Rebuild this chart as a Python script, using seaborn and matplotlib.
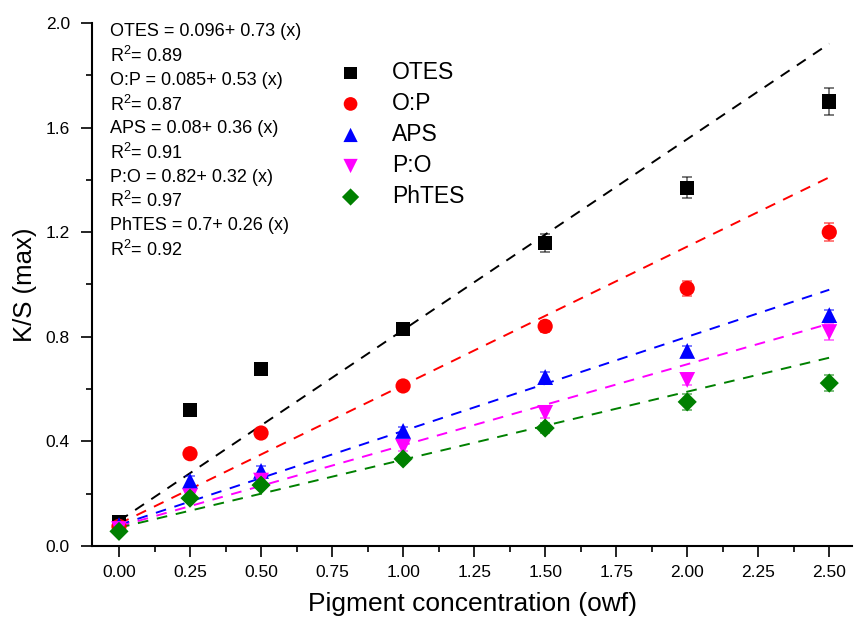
import numpy as np
import pandas as pd
import matplotlib
matplotlib.use("Agg")
import matplotlib.pyplot as plt
import seaborn as sns
from matplotlib.ticker import MultipleLocator

# ---- data ----
conc = [0.0, 0.25, 0.5, 1.0, 1.5, 2.0, 2.5]
series = ["OTES", "O:P", "APS", "P:O", "PhTES"]
otes = [0.093, 0.52, 0.677, 0.83, 1.16, 1.37, 1.70]
op = [0.075, 0.353, 0.432, 0.612, 0.84, 0.985, 1.20]
aps = [0.08, 0.249, 0.287, 0.44, 0.646, 0.746, 0.883]
po = [0.065, 0.19, 0.25, 0.379, 0.509, 0.635, 0.818]
phtes = [0.056, 0.183, 0.233, 0.333, 0.451, 0.551, 0.623]
otes_err = [0.01, 0.01, 0.01, 0.02, 0.035, 0.04, 0.05]
op_err = [0.01, 0.01, 0.01, 0.015, 0.02, 0.03, 0.035]
aps_err = [0.01, 0.02, 0.02, 0.015, 0.02, 0.02, 0.02]
po_err = [0.01, 0.02, 0.02, 0.015, 0.02, 0.02, 0.03]
phtes_err = [0.01, 0.01, 0.01, 0.015, 0.02, 0.03, 0.03]
fit_intercept = [0.096, 0.085, 0.08, 0.075, 0.07]
fit_slope = [0.73, 0.53, 0.36, 0.31, 0.26]
fit_x = [0.0, 2.5]
equations = ["OTES = 0.096+ 0.73 (x)", "R$^2$= 0.89",
             "O:P = 0.085+ 0.53 (x)", "R$^2$= 0.87",
             "APS = 0.08+ 0.36 (x)", "R$^2$= 0.91",
             "P:O = 0.82+ 0.32 (x)", "R$^2$= 0.97",
             "PhTES = 0.7+ 0.26 (x)", "R$^2$= 0.92"]
x_ticks = [0.0, 0.25, 0.5, 0.75, 1.0, 1.25, 1.5, 1.75, 2.0, 2.25, 2.5]
y_ticks = [0.0, 0.4, 0.8, 1.2, 1.6, 2.0]

values = [otes, op, aps, po, phtes]
errors = [otes_err, op_err, aps_err, po_err, phtes_err]
colors = {"OTES": "black", "O:P": "red", "APS": "blue", "P:O": "magenta", "PhTES": "green"}
markers = {"OTES": "s", "O:P": "o", "APS": "^", "P:O": "v", "PhTES": "D"}
sizes_map = {"OTES": 105, "O:P": 120, "APS": 130, "P:O": 130, "PhTES": 95}

df = pd.DataFrame({
    "x": np.tile(conc, len(series)),
    "y": np.concatenate(values),
    "err": np.concatenate(errors),
    "series": np.repeat(series, len(conc)),
})
fit_rows = []
for s, a, b in zip(series, fit_intercept, fit_slope):
    for xv in fit_x:
        fit_rows.append({"x": xv, "y": a + b * xv, "series": s})
fit_df = pd.DataFrame(fit_rows)

sns.set_style("ticks", {"axes.edgecolor": "black", "xtick.color": "black",
                        "ytick.color": "black", "text.color": "black",
                        "axes.labelcolor": "black"})
plt.rcParams["font.family"] = ["Liberation Sans", "DejaVu Sans"]
plt.rcParams["mathtext.fontset"] = "custom"
plt.rcParams["mathtext.rm"] = "Liberation Sans"

fig = plt.figure(figsize=(8.56, 6.23), dpi=100)
ax = fig.add_axes([92 / 856, 1 - 546 / 623, 760 / 856, 523 / 623])

# fit lines
sns.lineplot(data=fit_df, x="x", y="y", hue="series", palette=colors,
             hue_order=series, legend=False, ax=ax, linewidth=1.4,
             dashes=False, zorder=2)
for line in ax.get_lines():
    line.set_dashes((5.5, 4.5))

# error bars
for s in series:
    sub = df[df["series"] == s]
    ax.errorbar(sub["x"], sub["y"], yerr=sub["err"], fmt="none",
                ecolor=colors[s], alpha=0.6, elinewidth=1.2, capsize=3.5,
                capthick=1.2, zorder=3)

# markers
for s in series:
    sub = df[df["series"] == s]
    sns.scatterplot(data=sub, x="x", y="y", color=colors[s], marker=markers[s],
                    s=sizes_map[s], edgecolor="none", ax=ax, label=s, zorder=4)

ax.set_xlim(-0.095, 2.58)
ax.set_ylim(0.0, 2.0)
ax.set_xticks(x_ticks)
ax.set_xticklabels([f"{v:.2f}" for v in x_ticks])
ax.set_yticks(y_ticks)
ax.set_yticklabels([f"{v:.1f}" for v in y_ticks])
ax.xaxis.set_minor_locator(MultipleLocator(0.125))
ax.yaxis.set_minor_locator(MultipleLocator(0.2))
ax.tick_params(axis="both", which="major", length=8, width=1.2, labelsize=12.5,
               direction="out", colors="black")
ax.tick_params(axis="both", which="minor", length=4.5, width=1.2, direction="out",
               colors="black")
ax.tick_params(axis="x", pad=6)
ax.tick_params(axis="y", pad=8)
for sp in ["left", "bottom"]:
    ax.spines[sp].set_linewidth(1.5)
    ax.spines[sp].set_color("black")
sns.despine(ax=ax)

ax.set_xlabel("Pigment concentration (owf)", fontsize=19, labelpad=8, color="black")
ax.set_ylabel("K/S (max)", fontsize=18.5, labelpad=6, color="black")

# equations
y0 = (546 - 32) / 523
dy = 24.2 / 523
for i, t in enumerate(equations):
    ax.text((110 - 92) / 760, y0 - i * dy, t, transform=ax.transAxes,
            fontsize=13, ha="left", va="center", color="black")

handles, labels = ax.get_legend_handles_labels()
ax.legend(handles, labels, loc="upper left", bbox_to_anchor=(0.298, 0.945),
          frameon=False, fontsize=16.5, handletextpad=0.8, labelspacing=0.35,
          markerscale=0.9, borderaxespad=0, labelcolor="black")

fig.savefig("out.png", dpi=100)
